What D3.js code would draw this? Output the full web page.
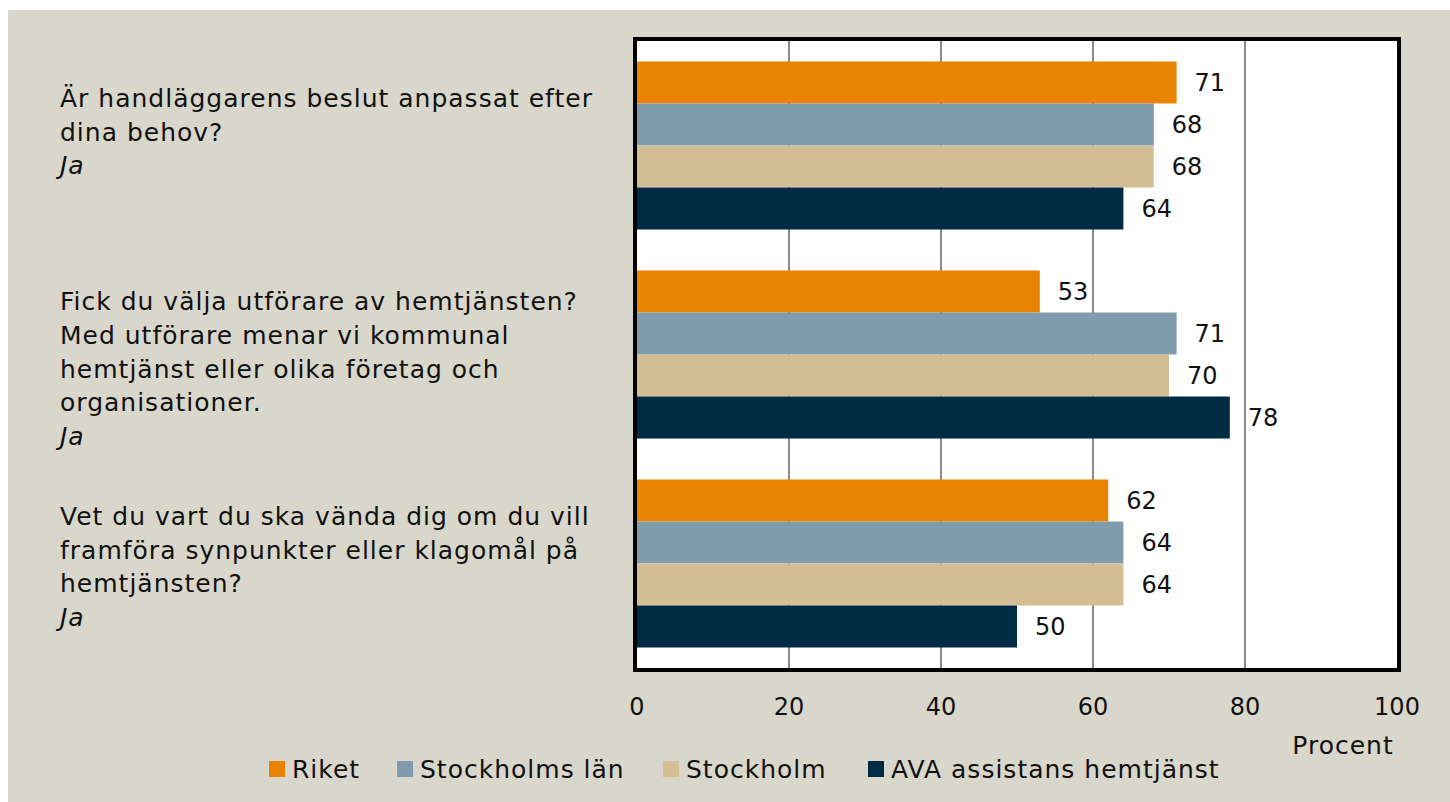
<!DOCTYPE html>
<html>
<head>
<meta charset="utf-8">
<script src="https://cdn.jsdelivr.net/npm/d3@7.9.0/dist/d3.min.js"></script>
<style>
  body { margin: 0; background: #fff; }
  svg { display: block; font-family: "DejaVu Sans", sans-serif; }
</style>
</head>
<body>
<svg id="chart" width="1450" height="802"></svg>
<script>
// questions (each one a list of text lines, last line in italics)
const questions = [
  ['Är handläggarens beslut anpassat efter', 'dina behov?', 'Ja'],
  ['Fick du välja utförare av hemtjänsten?', 'Med utförare menar vi kommunal', 'hemtjänst eller olika företag och', 'organisationer.', 'Ja'],
  ['Vet du vart du ska vända dig om du vill', 'framföra synpunkter eller klagomål på', 'hemtjänsten?', 'Ja']
];
const seriesNames = ['Riket', 'Stockholms län', 'Stockholm', 'AVA assistans hemtjänst'];
const riket = [71, 53, 62];
const stockholmsLan = [68, 71, 64];
const stockholm = [68, 70, 64];
const ava = [64, 78, 50];
const xTicks = [0, 20, 40, 60, 80, 100];
const colors = ['#E98300', '#7F9BAD', '#D4BF95', '#002B45'];

const seriesValues = [riket, stockholmsLan, stockholm, ava];
const svg = d3.select('#chart');

// beige background
svg.append('rect').attr('x', 8).attr('y', 10).attr('width', 1442).attr('height', 792).attr('fill', '#D9D7CB');

const plotL = 637, plotR = 1397, plotT = 41, plotB = 668;

let x = d3.scaleLinear().domain([0, 100]).range([plotL, plotR]);
let y = d3.scaleBand().domain(d3.range(questions.length)).range([plotT, plotB]).paddingInner(0.196).paddingOuter(0.098);
let ySub = d3.scaleBand().domain(d3.range(seriesNames.length)).range([0, y.bandwidth()]);

// plot area
svg.append('rect').attr('x', plotL).attr('y', plotT).attr('width', plotR - plotL).attr('height', plotB - plotT).attr('fill', '#fff');

// gridlines
svg.append('g')
  .selectAll('line')
  .data(xTicks.slice(1, -1))
  .join('line')
  .attr('x1', d => x(d)).attr('x2', d => x(d))
  .attr('y1', plotT).attr('y2', plotB)
  .attr('stroke', '#8c8c8c').attr('stroke-width', 2);

// bars
questions.forEach((q, qi) => {
  seriesValues.forEach((vals, si) => {
    let v = vals[qi];
    let by = y(qi) + ySub(si);
    svg.append('rect')
      .attr('x', x(0)).attr('y', by)
      .attr('width', x(v) - x(0)).attr('height', ySub.bandwidth())
      .attr('fill', colors[si]);
    svg.append('text')
      .attr('x', x(v) + 18).attr('y', by + ySub.bandwidth() / 2)
      .attr('dy', '0.36em')
      .attr('font-size', 24).attr('fill', '#111')
      .text(v);
  });
});

// border
svg.append('rect').attr('x', plotL - 2).attr('y', plotT - 2).attr('width', plotR - plotL + 4).attr('height', plotB - plotT + 4)
  .attr('fill', 'none').attr('stroke', '#000').attr('stroke-width', 4);

// x axis labels
svg.append('g')
  .selectAll('text')
  .data(xTicks)
  .join('text')
  .attr('x', d => x(d)).attr('y', 706).attr('dy', '0.36em')
  .attr('text-anchor', 'middle').attr('font-size', 24).attr('fill', '#111')
  .text(d => d);

svg.append('text').attr('x', 1343).attr('y', 745).attr('dy', '0.36em')
  .attr('text-anchor', 'middle').attr('font-size', 25).attr('letter-spacing', 1).attr('fill', '#111').text('Procent');

// category labels (the text blocks are not exactly centred on their bands)
const lineH = 33.7;
const labelShift = [-14, 14, 3];
questions.forEach((q, qi) => {
  let cy = y(qi) + y.bandwidth() / 2 + labelShift[qi];
  let startY = cy - (q.length - 1) * lineH / 2;
  let t = svg.append('text').attr('font-size', 25).attr('letter-spacing', 1).attr('fill', '#111');
  q.forEach((line, li) => {
    t.append('tspan')
      .attr('x', 60).attr('y', startY + li * lineH).attr('dy', '0.36em')
      .attr('font-style', li === q.length - 1 ? 'italic' : 'normal')
      .text(line);
  });
});

// legend
const legendX = [269, 397, 663, 868];
const legend = svg.append('g');
seriesNames.forEach((name, i) => {
  legend.append('rect').attr('x', legendX[i]).attr('y', 761).attr('width', 16).attr('height', 16).attr('fill', colors[i]);
  legend.append('text').attr('x', legendX[i] + 23).attr('y', 769).attr('dy', '0.36em')
    .attr('font-size', 25).attr('letter-spacing', 1).attr('fill', '#111').text(name);
});
</script>
</body>
</html>
